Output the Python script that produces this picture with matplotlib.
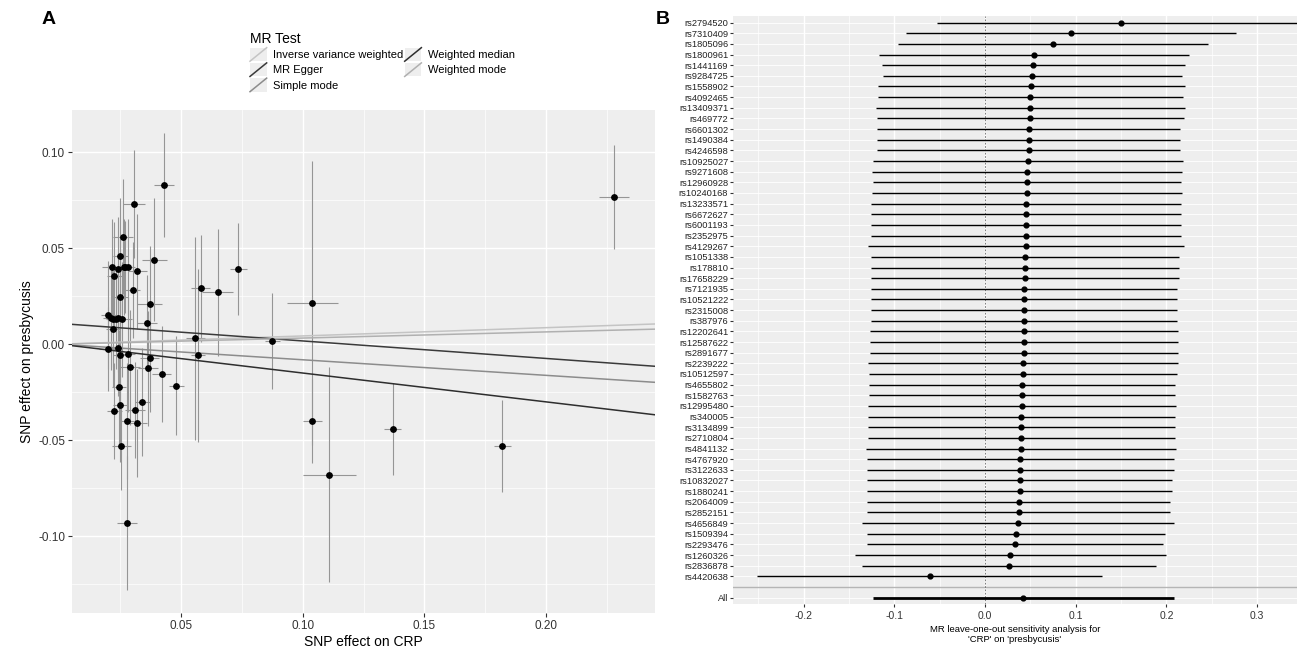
import numpy as np
import matplotlib
matplotlib.use('Agg')
from matplotlib import pyplot as plt
from matplotlib.lines import Line2D
from matplotlib.patches import Rectangle
from matplotlib.legend_handler import HandlerBase
from matplotlib.ticker import MultipleLocator

plt.rcParams['font.family'] = ['Liberation Sans', 'DejaVu Sans']

# ---- panel A: SNP effects (exposure CRP, outcome presbycusis) ----
snp_x = [0.043, 0.0307, 0.026, 0.025, 0.0216, 0.024, 0.0265, 0.027, 0.028, 0.0225,
         0.032, 0.039, 0.030, 0.025, 0.037, 0.020, 0.021, 0.022, 0.023, 0.024,
         0.0257, 0.036, 0.022, 0.0558, 0.020, 0.024, 0.025, 0.028, 0.037, 0.057,
         0.029, 0.0364, 0.042, 0.048, 0.0245, 0.034, 0.025, 0.031, 0.0225, 0.0278,
         0.032, 0.0254, 0.0278, 0.058, 0.065, 0.0735, 0.0875, 0.104, 0.104, 0.111,
         0.137, 0.182, 0.228]
snp_y = [0.083, 0.073, 0.056, 0.046, 0.040, 0.039, 0.040, 0.040, 0.040, 0.0356,
         0.038, 0.044, 0.028, 0.0247, 0.021, 0.0152, 0.0136, 0.013, 0.013, 0.0136,
         0.013, 0.011, 0.0079, 0.003, -0.0026, -0.002, -0.0058, -0.0052, -0.0073, -0.0058,
         -0.012, -0.0126, -0.0153, -0.0215, -0.0224, -0.030, -0.0315, -0.034, -0.035, -0.040,
         -0.041, -0.053, -0.093, 0.029, 0.027, 0.039, 0.0016, 0.0215, -0.040, -0.068,
         -0.044, -0.053, 0.0766]
se_x = [0.004, 0.0045, 0.004, 0.003, 0.004, 0.003, 0.003, 0.003, 0.003, 0.003,
        0.004, 0.005, 0.003, 0.003, 0.005, 0.003, 0.003, 0.003, 0.003, 0.003,
        0.004, 0.004, 0.003, 0.004, 0.004, 0.003, 0.003, 0.003, 0.004, 0.003,
        0.004, 0.004, 0.004, 0.003, 0.003, 0.003, 0.003, 0.004, 0.003, 0.003,
        0.004, 0.004, 0.004, 0.004, 0.0065, 0.0035, 0.003, 0.0105, 0.004, 0.011,
        0.0035, 0.0035, 0.006]
se_y = [0.027, 0.028, 0.030, 0.030, 0.025, 0.027, 0.025, 0.024, 0.025, 0.028,
        0.030, 0.032, 0.025, 0.030, 0.030, 0.028, 0.027, 0.025, 0.026, 0.028,
        0.030, 0.025, 0.030, 0.053, 0.022, 0.025, 0.028, 0.030, 0.028, 0.045,
        0.030, 0.030, 0.025, 0.026, 0.030, 0.028, 0.030, 0.025, 0.025, 0.030,
        0.028, 0.023, 0.035, 0.028, 0.033, 0.024, 0.025, 0.074, 0.022, 0.056,
        0.024, 0.024, 0.027]

methods = ['Inverse variance weighted', 'MR Egger', 'Simple mode',
           'Weighted median', 'Weighted mode']
slopes = [0.043, -0.091, -0.081, -0.150, 0.032]
intercepts = [0.0, 0.0108, 0.0, 0.0, 0.0]
line_cols = ['#c4c4c4', '#3a3a3a', '#8c8c8c', '#2e2e2e', '#b0b0b0']

# ---- panel B: leave-one-out ----
loo_snps = ['rs2794520', 'rs7310409', 'rs1805096', 'rs1800961', 'rs1441169', 'rs9284725',
            'rs1558902', 'rs4092465', 'rs13409371', 'rs469772', 'rs6601302', 'rs1490384',
            'rs4246598', 'rs10925027', 'rs9271608', 'rs12960928', 'rs10240168', 'rs13233571',
            'rs6672627', 'rs6001193', 'rs2352975', 'rs4129267', 'rs1051338', 'rs178810',
            'rs17658229', 'rs7121935', 'rs10521222', 'rs2315008', 'rs387976', 'rs12202641',
            'rs12587622', 'rs2891677', 'rs2239222', 'rs10512597', 'rs4655802', 'rs1582763',
            'rs12995480', 'rs340005', 'rs3134899', 'rs2710804', 'rs4841132', 'rs4767920',
            'rs3122633', 'rs10832027', 'rs1880241', 'rs2064009', 'rs2852151', 'rs4656849',
            'rs1509394', 'rs2293476', 'rs1260326', 'rs2836878', 'rs4420638']
loo_b = [0.150, 0.095, 0.075, 0.054, 0.053, 0.052, 0.051, 0.050, 0.050, 0.050,
         0.048, 0.048, 0.048, 0.047, 0.046, 0.046, 0.046, 0.045, 0.045, 0.045,
         0.045, 0.045, 0.044, 0.044, 0.044, 0.043, 0.043, 0.043, 0.043, 0.043,
         0.043, 0.043, 0.042, 0.042, 0.041, 0.041, 0.041, 0.040, 0.040, 0.040,
         0.040, 0.039, 0.039, 0.038, 0.038, 0.037, 0.037, 0.036, 0.034, 0.033,
         0.028, 0.026, -0.061]
loo_lo = [-0.053, -0.087, -0.096, -0.117, -0.114, -0.113, -0.118, -0.118, -0.120, -0.119,
          -0.119, -0.119, -0.119, -0.124, -0.125, -0.124, -0.125, -0.126, -0.126, -0.126,
          -0.126, -0.129, -0.126, -0.126, -0.126, -0.126, -0.126, -0.126, -0.126, -0.127,
          -0.127, -0.127, -0.129, -0.128, -0.128, -0.128, -0.129, -0.129, -0.129, -0.129,
          -0.131, -0.130, -0.130, -0.130, -0.130, -0.130, -0.130, -0.136, -0.130, -0.130,
          -0.144, -0.136, -0.251]
all_b = 0.042
all_lo = -0.124

BG = '#EEEEEE'

fig = plt.figure(figsize=(12.99, 6.48), dpi=100)

# ================= panel A =================
ax = fig.add_axes([72/1299, 1-613/648, (655-72)/1299, (613-110)/648])
ax.set_facecolor(BG)
for s in ax.spines.values():
    s.set_visible(False)

sx = np.array(snp_x); sy = np.array(snp_y)
ex = np.array(se_x); ey = np.array(se_y)
ax.errorbar(sx, sy, yerr=ey, fmt='none', ecolor='#959595', elinewidth=0.8, capsize=0, zorder=2)
ax.errorbar(sx, sy, xerr=ex, fmt='none', ecolor='#959595', elinewidth=0.8, capsize=0, zorder=2)
ax.scatter(sx, sy, s=15, color='black', zorder=4)

# ggplot-like 5% expansion
xmin = (sx - ex).min(); xmax = (sx + ex).max()
ymin = (sy - ey).min(); ymax = (sy + ey).max()
ax.set_xlim(xmin - 0.05*(xmax-xmin), xmax + 0.05*(xmax-xmin))
ax.set_ylim(ymin - 0.05*(ymax-ymin), ymax + 0.05*(ymax-ymin))

handles = []
for m, b, a, c in zip(methods, slopes, intercepts, line_cols):
    ax.axline((0, a), slope=b, color=c, lw=1.1, zorder=3)
    handles.append(Line2D([], [], color=c, lw=1.1))

ax.xaxis.set_major_locator(MultipleLocator(0.05))
ax.xaxis.set_minor_locator(MultipleLocator(0.025))
ax.yaxis.set_major_locator(MultipleLocator(0.05))
ax.yaxis.set_minor_locator(MultipleLocator(0.025))
ax.grid(which='major', color='white', lw=1.0, zorder=0)
ax.grid(which='minor', color='white', lw=0.5, zorder=0)
ax.set_axisbelow(True)
ax.tick_params(which='major', length=3, color='#333333', labelsize=8.5, labelcolor='#333333', pad=2)
ax.tick_params(which='minor', length=0)
ax.xaxis.set_major_formatter(plt.FuncFormatter(lambda v, p: f'{v:.2f}'))
ax.yaxis.set_major_formatter(plt.FuncFormatter(lambda v, p: f'{v:.2f}'))
ax.set_xlabel('SNP effect on CRP', fontsize=10, labelpad=2)
ax.set_ylabel('SNP effect on presbycusis', fontsize=10, labelpad=3)


class KeyHandler(HandlerBase):
    def create_artists(self, legend, orig_handle, xdescent, ydescent,
                       width, height, fontsize, trans):
        bg = Rectangle((-xdescent, -ydescent), width, height,
                       facecolor='#EEEEEE', edgecolor='none', transform=trans)
        ln = Line2D([-xdescent, -xdescent + width], [-ydescent, -ydescent + height],
                    color=orig_handle.get_color(), lw=orig_handle.get_linewidth(),
                    transform=trans)
        return [bg, ln]


leg = fig.legend(handles, methods, ncol=2, title='MR Test', loc='upper left',
                 bbox_to_anchor=(240/1299, 1-22/648), frameon=False,
                 fontsize=8, title_fontsize=10, alignment='left',
                 handlelength=1.5, handleheight=1.5, handletextpad=0.6,
                 labelspacing=0.15, columnspacing=0.1,
                 handler_map={Line2D: KeyHandler()})

fig.text(42/1299, 1-20/648, 'A', fontsize=14, fontweight='bold', va='center', ha='left')
fig.text(656/1299, 1-20/648, 'B', fontsize=14, fontweight='bold', va='center', ha='left')

# ================= panel B =================
bx = fig.add_axes([733/1299, 1-604/648, (1297-733)/1299, (604-16)/648])
bx.set_facecolor(BG)
for s in bx.spines.values():
    s.set_visible(False)

n = len(loo_snps)
pos = np.arange(n, 0, -1) + 2  # top row highest, leaves rows 1 (All) and 2 (blank)
b_arr = np.array(loo_b); lo_arr = np.array(loo_lo)
hi_arr = 2*b_arr - lo_arr
bx.hlines(pos, lo_arr, hi_arr, color='black', lw=1.0, zorder=3)
bx.scatter(b_arr, pos, s=12, color='black', zorder=4)
bx.hlines([1], [all_lo], [2*all_b - all_lo], color='black', lw=2.0, zorder=3)
bx.scatter([all_b], [1], s=12, color='black', zorder=4)
bx.axhline(2, color='#b5b5b5', lw=1.0, zorder=2)
bx.axvline(0, color='#666666', lw=0.6, ls=(0, (2, 2)), zorder=2)

bx.set_xlim(-0.278, 0.344)
bx.set_ylim(0.4, n + 2 + 0.62)
bx.set_yticks(list(pos) + [1])
bx.set_yticklabels(loo_snps + ['All'])
bx.xaxis.set_major_locator(MultipleLocator(0.1))
bx.xaxis.set_minor_locator(MultipleLocator(0.05))
bx.xaxis.set_major_formatter(plt.FuncFormatter(lambda v, p: f'{v:.1f}'))
bx.grid(axis='x', which='major', color='white', lw=1.0, zorder=0)
bx.grid(axis='x', which='minor', color='white', lw=0.5, zorder=0)
bx.grid(axis='y', which='major', color='white', lw=0.6, zorder=0)
bx.set_axisbelow(True)
bx.tick_params(axis='y', length=2, color='#333333', labelsize=6.7, labelcolor='#222222', pad=1.5)
bx.tick_params(axis='x', which='major', length=2, color='#333333', labelsize=7.5, labelcolor='#333333', pad=3)
bx.tick_params(which='minor', length=0)
bx.set_xlabel("MR leave-one-out sensitivity analysis for\n'CRP' on 'presbycusis'",
              fontsize=6.8, labelpad=3, linespacing=1.15)

fig.savefig('out.png', dpi=100)
